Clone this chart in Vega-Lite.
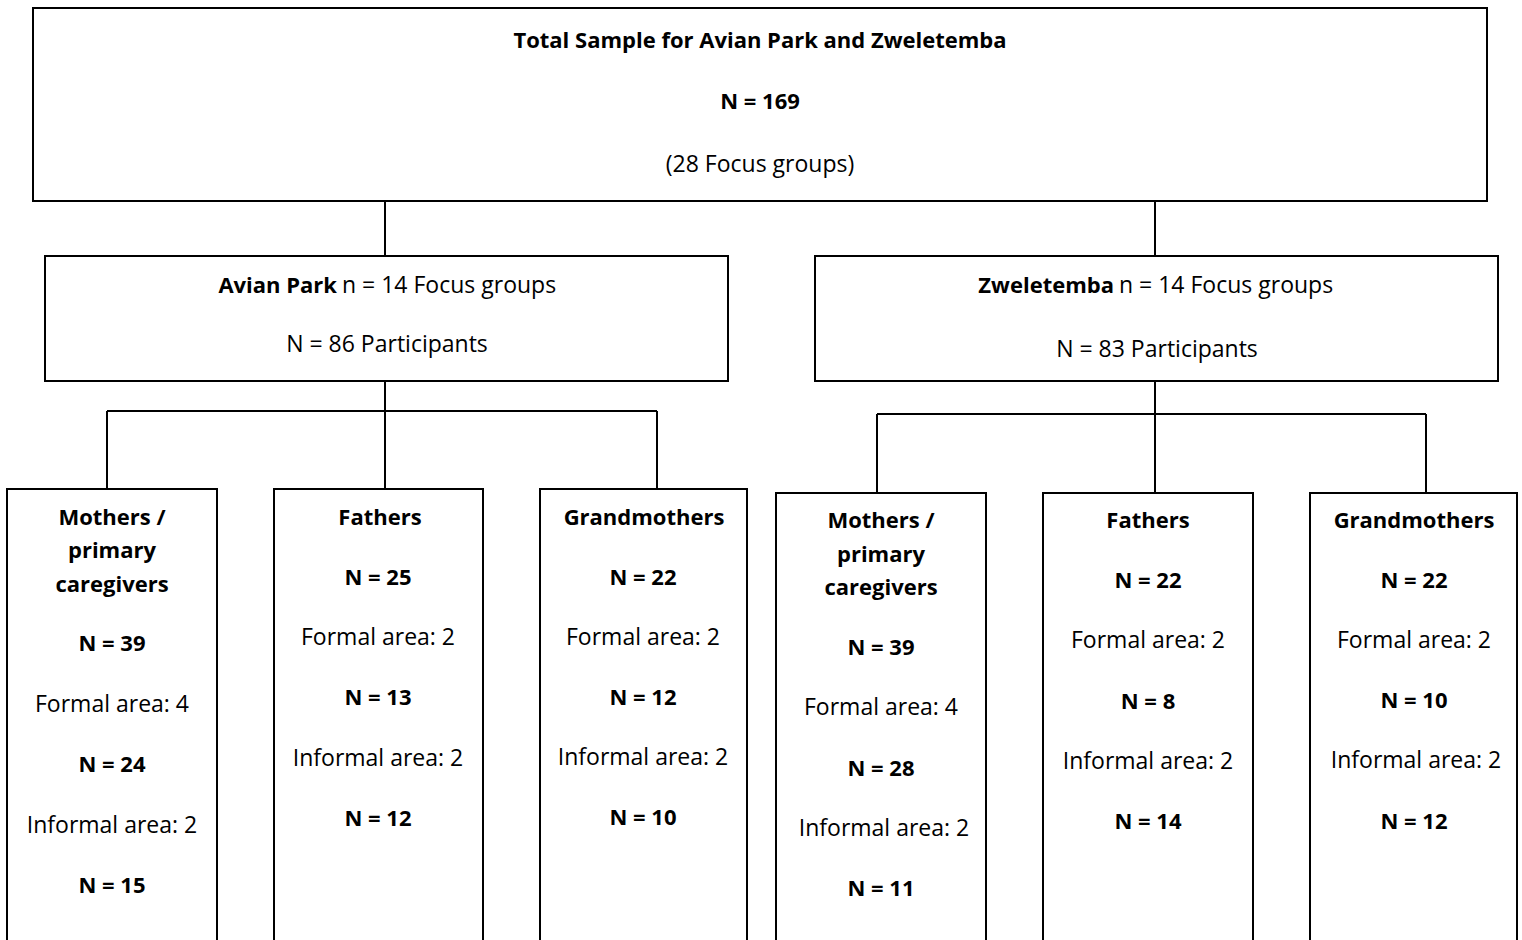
{
  "$schema": "https://vega.github.io/schema/vega-lite/v6.json",
  "width": 1522,
  "height": 940,
  "padding": 0,
  "autosize": {"type": "fit", "contains": "padding"},
  "config": {"view": {"stroke": null}},
  "datasets": {
    "boxes": [
      {"id": "total", "x1": 33, "x2": 1487, "y1": 8, "y2": 201},
      {"id": "avian", "x1": 45, "x2": 728, "y1": 256, "y2": 381},
      {"id": "zwel", "x1": 815, "x2": 1498, "y1": 256, "y2": 381},
      {"id": "a_mothers", "x1": 7, "x2": 217, "y1": 489, "y2": 960},
      {"id": "a_fathers", "x1": 274, "x2": 483, "y1": 489, "y2": 960},
      {"id": "a_grand", "x1": 540, "x2": 747, "y1": 489, "y2": 960},
      {"id": "z_mothers", "x1": 776, "x2": 986, "y1": 493, "y2": 960},
      {"id": "z_fathers", "x1": 1043, "x2": 1253, "y1": 493, "y2": 960},
      {"id": "z_grand", "x1": 1310, "x2": 1517, "y1": 493, "y2": 960}
    ],
    "links": [
      {"x1": 385, "x2": 385, "y1": 201, "y2": 256},
      {"x1": 1155, "x2": 1155, "y1": 201, "y2": 256},
      {"x1": 385, "x2": 385, "y1": 381, "y2": 411},
      {"x1": 107, "x2": 657, "y1": 411, "y2": 411},
      {"x1": 107, "x2": 107, "y1": 411, "y2": 489},
      {"x1": 385, "x2": 385, "y1": 411, "y2": 489},
      {"x1": 657, "x2": 657, "y1": 411, "y2": 489},
      {"x1": 1155, "x2": 1155, "y1": 381, "y2": 414},
      {"x1": 877, "x2": 1426, "y1": 414, "y2": 414},
      {"x1": 877, "x2": 877, "y1": 414, "y2": 493},
      {"x1": 1155, "x2": 1155, "y1": 414, "y2": 493},
      {"x1": 1426, "x2": 1426, "y1": 414, "y2": 493}
    ],
    "labels": [
      {"t": "Total Sample for Avian Park and Zweletemba", "x": 760, "y": 40, "w": "bold", "a": "center"},
      {"t": "N = 169", "x": 760, "y": 101, "w": "bold", "a": "center"},
      {"t": "(28 Focus groups)", "x": 760, "y": 164, "w": "normal", "a": "center"},
      {"t": "Avian Park", "x": 337, "y": 285, "w": "bold", "a": "right"},
      {"t": "n = 14 Focus groups", "x": 342, "y": 285, "w": "normal", "a": "left"},
      {"t": "N = 86 Participants", "x": 387, "y": 344, "w": "normal", "a": "center"},
      {"t": "Zweletemba", "x": 1114, "y": 285, "w": "bold", "a": "right"},
      {"t": "n = 14 Focus groups", "x": 1119, "y": 285, "w": "normal", "a": "left"},
      {"t": "N = 83 Participants", "x": 1157, "y": 349, "w": "normal", "a": "center"},
      {"t": "Mothers /", "x": 112, "y": 517, "w": "bold", "a": "center"},
      {"t": "primary", "x": 112, "y": 550, "w": "bold", "a": "center"},
      {"t": "caregivers", "x": 112, "y": 584, "w": "bold", "a": "center"},
      {"t": "N = 39", "x": 112, "y": 643, "w": "bold", "a": "center"},
      {"t": "Formal area: 4", "x": 112, "y": 704, "w": "normal", "a": "center"},
      {"t": "N = 24", "x": 112, "y": 764, "w": "bold", "a": "center"},
      {"t": "Informal area: 2", "x": 112, "y": 825, "w": "normal", "a": "center"},
      {"t": "N = 15", "x": 112, "y": 885, "w": "bold", "a": "center"},
      {"t": "Fathers", "x": 380, "y": 517, "w": "bold", "a": "center"},
      {"t": "N = 25", "x": 378, "y": 577, "w": "bold", "a": "center"},
      {"t": "Formal area: 2", "x": 378, "y": 637, "w": "normal", "a": "center"},
      {"t": "N = 13", "x": 378, "y": 697, "w": "bold", "a": "center"},
      {"t": "Informal area: 2", "x": 378, "y": 758, "w": "normal", "a": "center"},
      {"t": "N = 12", "x": 378, "y": 818, "w": "bold", "a": "center"},
      {"t": "Grandmothers", "x": 644, "y": 517, "w": "bold", "a": "center"},
      {"t": "N = 22", "x": 643, "y": 577, "w": "bold", "a": "center"},
      {"t": "Formal area: 2", "x": 643, "y": 637, "w": "normal", "a": "center"},
      {"t": "N = 12", "x": 643, "y": 697, "w": "bold", "a": "center"},
      {"t": "Informal area: 2", "x": 643, "y": 757, "w": "normal", "a": "center"},
      {"t": "N = 10", "x": 643, "y": 817, "w": "bold", "a": "center"},
      {"t": "Mothers /", "x": 881, "y": 520, "w": "bold", "a": "center"},
      {"t": "primary", "x": 881, "y": 554, "w": "bold", "a": "center"},
      {"t": "caregivers", "x": 881, "y": 587, "w": "bold", "a": "center"},
      {"t": "N = 39", "x": 881, "y": 647, "w": "bold", "a": "center"},
      {"t": "Formal area: 4", "x": 881, "y": 707, "w": "normal", "a": "center"},
      {"t": "N = 28", "x": 881, "y": 768, "w": "bold", "a": "center"},
      {"t": "Informal area: 2", "x": 884, "y": 828, "w": "normal", "a": "center"},
      {"t": "N = 11", "x": 881, "y": 888, "w": "bold", "a": "center"},
      {"t": "Fathers", "x": 1148, "y": 520, "w": "bold", "a": "center"},
      {"t": "N = 22", "x": 1148, "y": 580, "w": "bold", "a": "center"},
      {"t": "Formal area: 2", "x": 1148, "y": 640, "w": "normal", "a": "center"},
      {"t": "N = 8", "x": 1148, "y": 701, "w": "bold", "a": "center"},
      {"t": "Informal area: 2", "x": 1148, "y": 761, "w": "normal", "a": "center"},
      {"t": "N = 14", "x": 1148, "y": 821, "w": "bold", "a": "center"},
      {"t": "Grandmothers", "x": 1414, "y": 520, "w": "bold", "a": "center"},
      {"t": "N = 22", "x": 1414, "y": 580, "w": "bold", "a": "center"},
      {"t": "Formal area: 2", "x": 1414, "y": 640, "w": "normal", "a": "center"},
      {"t": "N = 10", "x": 1414, "y": 700, "w": "bold", "a": "center"},
      {"t": "Informal area: 2", "x": 1416, "y": 760, "w": "normal", "a": "center"},
      {"t": "N = 12", "x": 1414, "y": 821, "w": "bold", "a": "center"}
    ]
  },
  "layer": [
    {
      "data": {"name": "links"},
      "mark": {"type": "rule", "stroke": "#000000", "strokeWidth": 2},
      "encoding": {
        "x": {"field": "x1", "type": "quantitative", "scale": {"domain": [0, 1522], "nice": false, "zero": false}, "axis": null},
        "x2": {"field": "x2"},
        "y": {"field": "y1", "type": "quantitative", "scale": {"domain": [0, 940], "nice": false, "zero": false, "reverse": true}, "axis": null},
        "y2": {"field": "y2"}
      }
    },
    {
      "data": {"name": "boxes"},
      "mark": {"type": "rect", "fill": "#ffffff", "stroke": "#000000", "strokeWidth": 2, "clip": true},
      "encoding": {
        "x": {"field": "x1", "type": "quantitative", "scale": {"domain": [0, 1522], "nice": false, "zero": false}, "axis": null},
        "x2": {"field": "x2"},
        "y": {"field": "y1", "type": "quantitative", "scale": {"domain": [0, 940], "nice": false, "zero": false, "reverse": true}, "axis": null},
        "y2": {"field": "y2"}
      }
    },
    {
      "data": {"name": "labels"},
      "transform": [{"filter": "datum.w === 'bold' && datum.a === 'center'"}],
      "mark": {"type": "text", "font": "Open Sans", "fontSize": 22, "fontWeight": "bold", "align": "center", "baseline": "middle", "dy": 1, "color": "#000000"},
      "encoding": {
        "x": {"field": "x", "type": "quantitative"},
        "y": {"field": "y", "type": "quantitative"},
        "text": {"field": "t"}
      }
    },
    {
      "data": {"name": "labels"},
      "transform": [{"filter": "datum.w === 'normal' && datum.a === 'center'"}],
      "mark": {"type": "text", "font": "Open Sans", "fontSize": 23, "fontWeight": "normal", "align": "center", "baseline": "middle", "dy": 1, "color": "#000000"},
      "encoding": {
        "x": {"field": "x", "type": "quantitative"},
        "y": {"field": "y", "type": "quantitative"},
        "text": {"field": "t"}
      }
    },
    {
      "data": {"name": "labels"},
      "transform": [{"filter": "datum.a === 'right'"}],
      "mark": {"type": "text", "font": "Open Sans", "fontSize": 22, "fontWeight": "bold", "align": "right", "baseline": "middle", "dy": 1, "color": "#000000"},
      "encoding": {
        "x": {"field": "x", "type": "quantitative"},
        "y": {"field": "y", "type": "quantitative"},
        "text": {"field": "t"}
      }
    },
    {
      "data": {"name": "labels"},
      "transform": [{"filter": "datum.a === 'left'"}],
      "mark": {"type": "text", "font": "Open Sans", "fontSize": 23, "fontWeight": "normal", "align": "left", "baseline": "middle", "dy": 1, "color": "#000000"},
      "encoding": {
        "x": {"field": "x", "type": "quantitative"},
        "y": {"field": "y", "type": "quantitative"},
        "text": {"field": "t"}
      }
    }
  ]
}
